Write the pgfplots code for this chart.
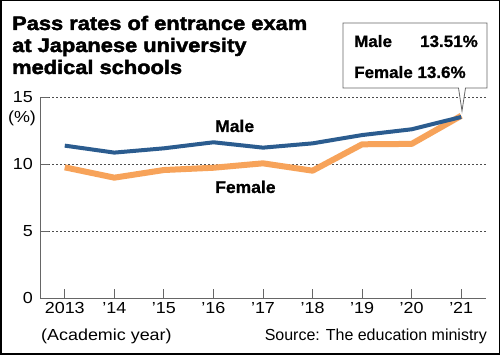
\documentclass[border=0pt]{standalone}
\usepackage{fontspec}
\setmainfont{Liberation Sans}[FakeStretch=1.12]
\newfontfamily\titlefont{Liberation Sans}[FakeStretch=1.12, BoldFeatures={FakeBold=2.2}]
\newfontfamily\labfont{Liberation Sans}[FakeStretch=1.03, BoldFeatures={FakeBold=0.8}]
\newfontfamily\srcfont{Liberation Sans}[FakeStretch=1.0]
\usepackage{pgfplots}
\pgfplotsset{compat=1.18}
\definecolor{maleblue}{HTML}{2B5C8F}
\definecolor{femorange}{HTML}{F7A35A}
\definecolor{axgray}{HTML}{666666}
\begin{document}
\begin{tikzpicture}[x=1pt,y=1pt]
\useasboundingbox (0,0) rectangle (500,355);
\fill[white] (0,0) rectangle (500,355);
\begin{axis}[
  at={(40pt,57pt)}, anchor=south west,
  scale only axis, width=446pt, height=201pt,
  xmin=-0.5, xmax=8.5, ymin=0, ymax=15,
  axis lines=left, axis line style={axgray, line width=0.8pt, -},
  xtick={0,...,8},
  xticklabels={2013,’14,’15,’16,’17,’18,’19,’20,’21},
  ytick={0,5,10,15},
  tick style={axgray, line width=0.8pt},
  tick align=inside,
  major tick length=9pt,
  ymajorgrids, grid style={black!70, line width=0.6pt, dash pattern=on 2pt off 2pt},
  /pgf/number format/assume math mode=true,
  xticklabel style={font=\fontsize{16}{18}\selectfont, anchor=base, yshift=-16pt, inner sep=0pt},
  yticklabel style={font=\fontsize{16}{18}\selectfont, anchor=east, inner sep=0pt, xshift=-7pt},
  clip=false,
]
\addplot[femorange, line width=6pt, line join=round] coordinates {
  (0,9.75) (1,8.98) (2,9.55) (3,9.72) (4,10.05) (5,9.5) (6,11.47) (7,11.5) (8,13.6)};
\addplot[maleblue, line width=4pt, line join=round] coordinates {
  (0,11.37) (1,10.85) (2,11.17) (3,11.62) (4,11.22) (5,11.54) (6,12.16) (7,12.59) (8,13.51)};
\end{axis}
% frame
\draw[black, line width=1.5pt] (0.75,0.75) rectangle (499.25,354.25);
% title
\node[anchor=base west, inner sep=0pt, font=\titlefont\bfseries\fontsize{19.5}{22}\selectfont] at (12,325) {Pass rates of entrance exam};
\node[anchor=base west, inner sep=0pt, font=\titlefont\bfseries\fontsize{19.5}{22}\selectfont] at (12,303) {at Japanese university};
\node[anchor=base west, inner sep=0pt, font=\titlefont\bfseries\fontsize{19.5}{22}\selectfont] at (12,281) {medical schools};
% callout
\filldraw[fill=white, draw=axgray, line width=0.8pt] (343,332) -- (487,332) -- (487,267) -- (465.5,267) -- (462,244) -- (458.5,267) -- (343,267) -- cycle;
\node[anchor=base west, inner sep=0pt, font=\labfont\bfseries\fontsize{16.5}{18}\selectfont] at (354,308) {Male};
\node[anchor=base east, inner sep=0pt, font=\labfont\bfseries\fontsize{16.5}{18}\selectfont] at (478,308) {13.51\%};
\node[anchor=base west, inner sep=0pt, font=\labfont\bfseries\fontsize{16.5}{18}\selectfont] at (354,277) {Female 13.6\%};
% series labels
\node[anchor=base west, inner sep=0pt, font=\labfont\bfseries\fontsize{17}{18}\selectfont] at (215,223) {Male};
\node[anchor=base west, inner sep=0pt, font=\labfont\bfseries\fontsize{17}{18}\selectfont] at (215,162) {Female};
% other texts
\node[inner sep=0pt, font=\fontsize{16}{18}\selectfont] at (22,237) {(\%)};
\node[anchor=base west, inner sep=0pt, font=\fontsize{16}{18}\selectfont] at (41,14) {(Academic year)};
\node[anchor=base east, inner sep=0pt, font=\srcfont\fontsize{16}{18}\selectfont] at (487,14) {Source: The education ministry};
\end{tikzpicture}
\end{document}
